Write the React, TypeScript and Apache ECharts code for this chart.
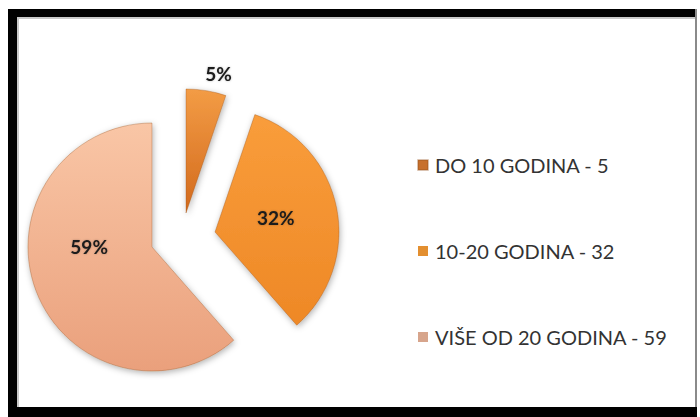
import React, { useEffect, useRef } from "react";
import * as echarts from "echarts";

const categories = ["DO 10 GODINA", "10-20 GODINA", "VIŠE OD 20 GODINA"];
const values = [5, 32, 59];

const sliceTop = ["#F39C45", "#F99D3B", "#F9C6A6"];
const sliceBottom = ["#D2691C", "#EE8826", "#EAA07C"];
const legendColors = ["#C7702C", "#E38F30", "#D7A58C"];

// per-slice explode position (pie vertex) and label nudges
const centers: [number, number][] = [
  [186, 213],
  [215, 232],
  [152, 247],
];
const nudges: [number, number][] = [
  [22, -75],
  [-3, -2],
  [-2, -23],
];

export default function App() {
  const ref = useRef<HTMLDivElement>(null);
  useEffect(() => {
    if (!ref.current) return;
    const chart = echarts.init(ref.current, undefined, { renderer: "svg" });
    const font = "Lato";
    const series = categories.map((_, s) => ({
      type: "pie" as const,
      center: centers[s],
      radius: 124,
      startAngle: 90,
      clockwise: true,
      silent: true,
      avoidLabelOverlap: false,
      emphasis: { disabled: true },
      label: {
        show: true,
        position: "inside" as const,
        formatter: "{c}%",
        fontSize: 19,
        fontWeight: "bold" as const,
        color: "#1b1b1b",
        fontFamily: font,
        textShadowColor: "rgba(0,0,0,0.25)",
        textShadowBlur: 2,
      },
      labelLine: { show: false },
      labelLayout: () => ({ dx: nudges[s][0], dy: nudges[s][1] }),
      data: categories.map((name, i) => ({
        name,
        value: values[i],
        itemStyle:
          i === s
            ? {
                color: new echarts.graphic.LinearGradient(0, 0, 0, 1, [
                  { offset: 0, color: sliceTop[i] },
                  { offset: 1, color: sliceBottom[i] },
                ]),
                borderColor: "rgba(150,80,30,0.35)",
                borderWidth: 1,
                shadowBlur: 6,
                shadowColor: "rgba(0,0,0,0.3)",
                shadowOffsetX: 1,
                shadowOffsetY: 2,
              }
            : { color: "rgba(0,0,0,0)" },
        label: i === s ? {} : { show: false },
      })),
    }));

    chart.setOption({
      animation: false,
      backgroundColor: "#ffffff",
      graphic: [
        { type: "rect", shape: { x: 8, y: 9, width: 689, height: 8 }, style: { fill: "#000" } },
        { type: "rect", shape: { x: 8, y: 9, width: 9, height: 408 }, style: { fill: "#000" } },
        { type: "rect", shape: { x: 8, y: 407, width: 689, height: 10 }, style: { fill: "#000" } },
        { type: "rect", shape: { x: 695, y: 9, width: 2, height: 398 }, style: { fill: "#8a8a8a" } },
        { type: "rect", shape: { x: 17, y: 17, width: 678, height: 2 }, style: { fill: "#c8c8c8" } },
        { type: "rect", shape: { x: 17, y: 17, width: 2, height: 390 }, style: { fill: "#c8c8c8" } },
      ],
      legend: {
        orient: "vertical",
        left: 412,
        top: 150,
        itemWidth: 10,
        itemHeight: 10,
        itemGap: 66,
        icon: "rect",
        selectedMode: false,
        formatter: (name: string) => `${name} - ${values[categories.indexOf(name)]}`,
        textStyle: {
          fontSize: 20,
          color: "#333",
          fontFamily: font,
          lineHeight: 20,
          padding: [0, 0, 0, 2],
        },
        data: categories.map((name, i) => ({ name, itemStyle: { color: legendColors[i] } })),
      },
      series,
    });
    return () => chart.dispose();
  }, []);
  return (
    <div
      ref={ref}
      style={{ position: "absolute", left: 0, top: 0, width: 700, height: 417 }}
    />
  );
}
